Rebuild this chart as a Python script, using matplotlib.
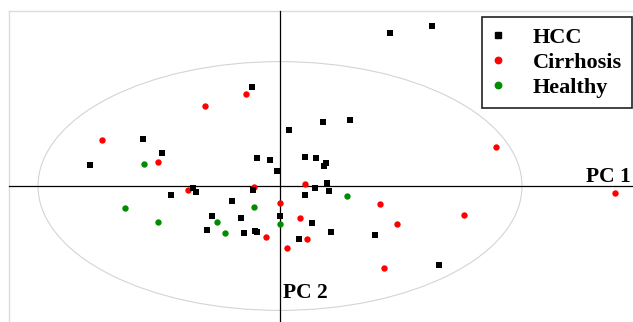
import matplotlib
matplotlib.use("Agg")
import matplotlib.pyplot as plt
from matplotlib.patches import Ellipse
from matplotlib.lines import Line2D
import numpy as np

# PCA scores (PC1, PC2)
hcc_pc1 = [-0.69, -3.42, -2.94, 0.23, 2.76, 3.81, 1.08, 1.76, -0.57, -0.24,
           -0.08, 0.63, 0.91, 1.16, 1.11, 1.18, 0.88, 1.23, 0.63, -0.67,
           -2.17, -2.09, -1.19, -1.69, -0.97, 0.01, 0.81, -1.82, -0.89, -0.62,
           -0.57, 1.28, 0.48, -4.74, -2.72, 2.38, 3.98]
hcc_pc2 = [2.47, 1.17, 0.82, 1.39, 3.82, 3.99, 1.59, 1.64, 0.69, 0.64,
           0.37, 0.72, 0.69, 0.57, 0.51, 0.08, -0.06, -0.13, -0.23, -0.11,
           -0.06, -0.16, -0.38, -0.76, -0.81, -0.76, -0.93, -1.11, -1.18, -1.13,
           -1.16, -1.16, -1.33, 0.52, -0.23, -1.23, -1.98]

cir_pc1 = [-0.84, -1.88, -4.46, 5.39, 0.63, -0.66, -2.29, 0.00, 0.49, -0.35,
           0.67, 0.18, -3.05, 2.51, 2.93, 4.61, 8.38, 2.61]
cir_pc2 = [2.30, 1.99, 1.14, 0.98, 0.04, -0.03, -0.09, -0.42, -0.81, -1.28,
           -1.32, -1.56, 0.61, -0.45, -0.94, -0.73, -0.17, -2.04]

hea_pc1 = [1.67, -0.64, -1.58, -0.01, -1.38, -3.41, -3.88, -3.05]
hea_pc2 = [-0.24, -0.53, -0.89, -0.94, -1.18, 0.54, -0.55, -0.91]

groups = ["HCC", "Cirrhosis", "Healthy"]

# confidence ellipse half-axes
ell_a = 6.05
ell_b = 3.11

font = {"family": "Liberation Serif", "weight": "bold"}

fig = plt.figure(figsize=(6.33, 3.22), dpi=100)
ax = fig.add_axes([0, 0, 1, 1])
ax.set_xlim(-7.0, 8.825)
ax.set_ylim(-3.4, 4.65)
ax.axis("off")

# outer light frame
left, top = -6.775, 4.375
ax.plot([left, left], [-3.4, top], color="#dcdcdc", lw=1.0, zorder=1)
ax.plot([left, 8.825], [top, top], color="#dcdcdc", lw=1.0, zorder=1)

# ellipse
ax.add_patch(Ellipse((0, 0), 2 * ell_a, 2 * ell_b, fill=False,
                     edgecolor="#d4d4d4", lw=0.8, zorder=1))

# PC axes
ax.plot([0, 0], [-3.4, top], color="black", lw=0.9, zorder=1.5)
ax.plot([left, 8.825], [0, 0], color="black", lw=0.9, zorder=1.5)

ax.scatter(cir_pc1, cir_pc2, s=21, c="#ff0000", marker="o", linewidths=0, zorder=2)
ax.scatter(hea_pc1, hea_pc2, s=21, c="#008c00", marker="o", linewidths=0, zorder=2.5)
ax.scatter(hcc_pc1, hcc_pc2, s=25, c="black", marker="s", linewidths=0, zorder=3)

ax.text(8.78, 0.1, "PC 1", ha="right", va="baseline", fontsize=15.5, **font)
ax.text(0.08, -2.81, "PC 2", ha="left", va="baseline", fontsize=15.5, **font)

handles = [
    Line2D([], [], ls="none", marker="s", color="black", markersize=5.0),
    Line2D([], [], ls="none", marker="o", color="#ff0000", markersize=4.6),
    Line2D([], [], ls="none", marker="o", color="#008c00", markersize=4.6),
]
leg = ax.legend(handles, groups, loc="upper right",
                bbox_to_anchor=(632 / 633, 1 - 17 / 322),
                prop={"family": "Liberation Serif", "weight": "bold", "size": 16},
                frameon=True, fancybox=False, framealpha=1, edgecolor="#222222",
                borderpad=0.45, handlelength=0.55, handletextpad=1.3,
                labelspacing=0.2, borderaxespad=0)
leg.get_frame().set_linewidth(1.2)

fig.savefig("out.png", dpi=100)
